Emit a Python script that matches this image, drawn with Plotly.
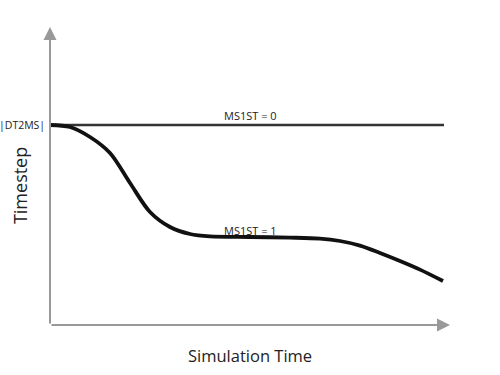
import plotly.graph_objects as go

# Data (abstract units)
curve_x = [0, 0.5, 1.0, 1.5, 2.0, 2.5, 3.0, 3.5, 4.0, 5.0, 6.0, 6.75, 7.25, 7.75,
           8.25, 8.75, 9.25, 9.825]
curve_y = [1.0, 0.99, 0.94, 0.86, 0.71, 0.565, 0.49, 0.455, 0.443, 0.44, 0.437, 0.432,
           0.42, 0.397, 0.36, 0.32, 0.277, 0.22]
flat_x = [0, 9.85]
flat_y = [1.0, 1.0]
dt2ms = 1.0
label0 = "MS1ST = 0"
label1 = "MS1ST = 1"
label_x = 5.0
label1_y = 0.475

FONT = "Open Sans"

fig = go.Figure()
fig.add_trace(go.Scatter(x=flat_x, y=flat_y, mode="lines",
                         line=dict(color="#333333", width=2.5), hoverinfo="skip"))
fig.add_trace(go.Scatter(x=curve_x, y=curve_y, mode="lines",
                         line=dict(color="#111111", width=3.8, shape="spline", smoothing=0.9),
                         hoverinfo="skip"))

ann = []
# axes with arrows
ann.append(dict(x=10.0, y=0, ax=0, ay=0, xref="x", yref="y", axref="x", ayref="y",
                showarrow=True, arrowhead=2, arrowsize=1.3, arrowwidth=2, arrowcolor="#999999", text=""))
ann.append(dict(x=0, y=1.49, ax=0, ay=0, xref="x", yref="y", axref="x", ayref="y",
                showarrow=True, arrowhead=2, arrowsize=1.3, arrowwidth=2, arrowcolor="#999999", text=""))
ann.append(dict(x=0, y=dt2ms, xref="x", yref="y", text="|DT2MS|", showarrow=False,
                xanchor="right", yanchor="middle", xshift=-3, font=dict(family=FONT, size=10.5, color="#222")))
ann.append(dict(x=label_x, y=dt2ms, xref="x", yref="y", text=label0, showarrow=False,
                xanchor="center", yanchor="bottom", yshift=0, font=dict(family=FONT, size=11, color="#222")))
ann.append(dict(x=label_x, y=label1_y, xref="x", yref="y", text=label1, showarrow=False,
                xanchor="center", yanchor="middle", font=dict(family=FONT, size=11, color="#222")))
ann.append(dict(x=-0.075, y=0.463, xref="paper", yref="paper", text="Timestep", showarrow=False,
                textangle=-90, xanchor="center", yanchor="middle", font=dict(family=FONT, size=18, color="#222")))
ann.append(dict(x=0.5, y=-0.1, xref="paper", yref="paper", text="Simulation Time", showarrow=False,
                xanchor="center", yanchor="middle", font=dict(family=FONT, size=16.5, color="#222")))

fig.update_layout(
    width=500, height=375,
    margin=dict(l=50, r=50, t=25, b=50, autoexpand=False),
    paper_bgcolor="white", plot_bgcolor="white",
    showlegend=False,
    annotations=ann,
    xaxis=dict(range=[0, 10], showgrid=False, zeroline=False, showticklabels=False, showline=False, fixedrange=True),
    yaxis=dict(range=[0, 1.5], showgrid=False, zeroline=False, showticklabels=False, showline=False, fixedrange=True),
)

fig.write_html("out.html", config={"displayModeBar": False},
               post_script="document.body.style.margin='0';document.body.style.overflow='hidden';")
